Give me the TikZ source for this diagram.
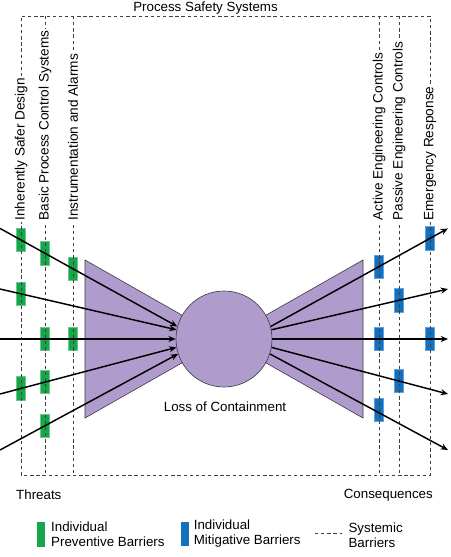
\documentclass[tikz,border=0pt]{standalone}
\usepackage{fontspec}
\setmainfont{Liberation Sans}
\usepackage{xcolor}
\definecolor{bowfill}{RGB}{176,156,204}
\definecolor{bowframe}{RGB}{60,55,70}
\definecolor{prevfill}{RGB}{22,166,76}
\definecolor{prevframe}{RGB}{110,200,135}
\definecolor{mitfill}{RGB}{18,112,188}
\definecolor{mitframe}{RGB}{100,160,220}
\usepackage{tikz}
\usetikzlibrary{arrows.meta,positioning,calc}
\tikzset{
  bow_part/.style={fill=bowfill,draw=bowframe,line width=0.45pt,line join=miter},
  bow_core/.style={circle,fill=bowfill,draw=bowframe,line width=0.45pt,
    minimum size=72pt,inner sep=0pt},
  bar_prev/.style={rectangle,fill=prevfill,draw=prevframe,line width=0.5pt,
    minimum width=6.5pt,minimum height=17.5pt,inner sep=0pt},
  bar_mit/.style={rectangle,fill=mitfill,draw=mitframe,line width=0.5pt,
    minimum width=6.5pt,minimum height=17.5pt,inner sep=0pt},
  sys_line/.style={draw=black!75,line width=0.7pt,dash pattern=on 2.5pt off 2.1pt},
  sys_label/.style={rotate=90,anchor=west,fill=white,
    inner xsep=1pt,inner ysep=0.3pt,font=\fontsize{10.2}{12}\selectfont},
  leg_text/.style={align=left,inner sep=1pt,
    font=\fontsize{10}{11.2}\selectfont},
  arr/.style={-{Stealth[length=5.5pt,width=4.6pt]},line width=1.1pt,draw=black},
}

\begin{document}
\begin{tikzpicture}[x=0.75pt,y=-0.75pt,
                    every node/.style={font=\fontsize{10}{12}\selectfont}]
  \useasboundingbox (0,0) rectangle (450,557);

  % bow tie
  \path[bow_part] (85,260) -- (224,339) -- (85,418) -- cycle;
  \path[bow_part] (363,260) -- (224,339) -- (363,418) -- cycle;
  \node (loc) [bow_core] at (224,339) {};
  \node (loc_txt) at (225,407) {Loss of Containment};

  % individual barriers
  \node (isd_1) [bar_prev] at (21,240.0) {};
  \node (isd_2) [bar_prev] at (21,293.8) {};
  \node (isd_4) [bar_prev] at (21,388.4) {};
  \node (bpc_1) [bar_prev] at (45,253.3) {};
  \node (bpc_3) [bar_prev] at (45,339) {};
  \node (bpc_4) [bar_prev] at (45,382.1) {};
  \node (bpc_5) [bar_prev] at (45,425.7) {};
  \node (ia_1)  [bar_prev] at (73,268.8) {};
  \node (ia_3)  [bar_prev] at (73,339) {};
  \node (aec_1) [bar_mit] at (379,266.6) {};
  \node (aec_3) [bar_mit] at (379,339) {};
  \node (aec_5) [bar_mit] at (379,410) {};
  \node (pec_2) [bar_mit] at (399,300.3) {};
  \node (pec_4) [bar_mit] at (399,381.0) {};
  \node (er_1)  [bar_mit] at (430,238.4) {};
  \node (er_3)  [bar_mit] at (430,339) {};

  % systemic barriers
  \draw[sys_line] (21,475) -- (21,16) -- (430,16) -- (430,475) -- cycle;
  \foreach \x in {45,73,379,399}
    \draw[sys_line] (\x,16) -- (\x,475);
  \node (pss) [anchor=base] at (205.5,11) {Process Safety Systems};
  \node (isd) [sys_label] at (21,222) {Inherently Safer Design};
  \node (bpc) [sys_label] at (45,222) {Basic Process Control Systems};
  \node (ia)  [sys_label] at (73,222) {Instrumentation and Alarms};
  \node (aec) [sys_label] at (379,222) {Active Engineering Controls};
  \node (pec) [sys_label] at (399,222) {Passive Engineering Controls};
  \node (er)  [sys_label] at (430,222) {Emergency Response};

  % threats and consequences
  \coordinate (t1) at (0,228.4);
  \coordinate (t2) at (0,289);
  \coordinate (t3) at (0,339);
  \coordinate (t4) at (0,394);
  \coordinate (t5) at (0,450);
  \coordinate (c1) at (448,228.4);
  \coordinate (c2) at (448,289);
  \coordinate (c3) at (448,339);
  \coordinate (c4) at (448,394);
  \coordinate (c5) at (448,450);
  \draw[arr] (t1) -- (loc.165);
  \draw[arr] (t2) -- (loc.169);
  \draw[arr] (t3) -- (loc.180);
  \draw[arr] (t4) -- (loc.190);
  \draw[arr] (t5) -- (loc.198);
  \draw[arr] (loc.15)  -- (c1);
  \draw[arr] (loc.11)  -- (c2);
  \draw[arr] (loc.0)   -- (c3);
  \draw[arr] (loc.-10) -- (c4);
  \draw[arr] (loc.-18) -- (c5);
  \node (thr) [anchor=west] at (11.5,495) {Threats};
  \node (con) [anchor=east] at (437.5,495) {Consequences};

  % legend
  \node (key_prev) [bar_prev,minimum width=6pt,minimum height=18.5pt,draw=none]
    at (41,534.5) {};
  \node (key_prev_txt) [leg_text,right=3.2pt of key_prev]
    {Individual\\Preventive Barriers};
  \node (key_mit) [bar_mit,minimum width=6pt,minimum height=18.5pt,draw=none]
    at (185,534) {};
  \node (key_mit_txt) [leg_text,right=2.2pt of key_mit]
    {Individual\\Mitigative Barriers};
  \coordinate (key_sys_a) at (315,533);
  \coordinate (key_sys_b) at (342,533);
  \draw[sys_line] (key_sys_a) -- (key_sys_b);
  \node (key_sys_txt) [leg_text,anchor=west] at (347,535)
    {Systemic\\Barriers};
\end{tikzpicture}
\end{document}
